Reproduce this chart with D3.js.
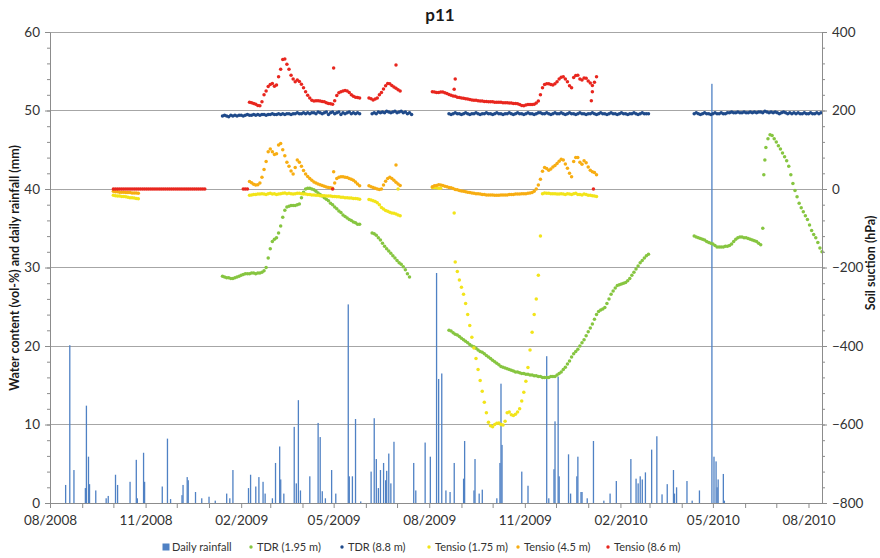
<!DOCTYPE html>
<html>
<head>
<meta charset="utf-8">
<script src="https://cdn.jsdelivr.net/npm/d3@7"></script>
<style>
  body { margin: 0; background: #fff; }
  text { font-family: Lato, "Open Sans", sans-serif; }
</style>
</head>
<body>
<svg id="chart" width="880" height="558"></svg>
<script>
// Logger readings are stored as segments: a start date and one value every STEP_DAYS days.
const STEP_DAYS = 2;

// Daily rainfall (mm)
const rainfall = [
  ["2008-08-16",2.3],["2008-08-20",20.1],["2008-08-24",4.2],["2008-09-04",1.9],["2008-09-05",12.4],
  ["2008-09-07",5.9],["2008-09-08",2.4],["2008-09-14",1.6],["2008-09-24",0.6],["2008-09-26",0.9],
  ["2008-10-03",3.6],["2008-10-05",2.3],["2008-10-17",2.7],["2008-10-23",5.5],["2008-10-24",0.6],
  ["2008-10-30",6.4],["2008-10-31",2.7],["2008-11-17",2.1],["2008-11-22",8.2],["2008-11-25",0.5],
  ["2008-12-06",1.0],["2008-12-07",2.3],["2008-12-11",3.3],["2008-12-12",2.9],["2008-12-19",1.4],
  ["2008-12-25",0.6],["2009-01-01",0.8],["2009-01-07",0.3],["2009-01-18",1.2],["2009-01-21",0.6],
  ["2009-01-24",4.2],["2009-02-08",1.9],["2009-02-10",3.6],["2009-02-15",2.1],["2009-02-18",3.3],
  ["2009-02-22",2.7],["2009-02-24",1.2],["2009-03-03",0.6],["2009-03-06",5.1],["2009-03-10",7.2],
  ["2009-03-11",3.0],["2009-03-14",1.2],["2009-03-24",9.7],["2009-03-26",2.5],["2009-03-28",13.1],
  ["2009-03-30",1.6],["2009-04-08",3.4],["2009-04-16",10.2],["2009-04-18",8.4],["2009-04-20",1.5],
  ["2009-04-23",0.6],["2009-04-29",4.2],["2009-05-03",1.2],["2009-05-15",25.3],["2009-05-16",3.4],
  ["2009-05-19",3.4],["2009-05-22",10.7],["2009-05-27",0.2],["2009-06-06",4.0],["2009-06-09",10.8],
  ["2009-06-11",5.6],["2009-06-13",1.9],["2009-06-15",4.2],["2009-06-18",5.1],["2009-06-20",2.9],
  ["2009-06-21",4.1],["2009-06-23",6.3],["2009-06-25",2.5],["2009-06-28",7.8],["2009-07-17",5.1],
  ["2009-07-19",1.6],["2009-07-28",7.7],["2009-08-02",5.9],["2009-08-08",29.3],["2009-08-10",15.8],
  ["2009-08-13",16.5],["2009-08-17",1.6],["2009-08-21",1.4],["2009-08-25",5.1],["2009-09-03",3.1],
  ["2009-09-04",7.9],["2009-09-13",1.6],["2009-09-14",5.6],["2009-09-18",1.2],["2009-09-21",1.7],
  ["2009-10-05",0.6],["2009-10-08",5.1],["2009-10-09",15.2],["2009-10-10",7.4],["2009-10-29",4.0],
  ["2009-11-04",2.2],["2009-11-22",18.7],["2009-11-24",0.6],["2009-11-29",4.3],["2009-11-30",10.4],
  ["2009-12-03",16.1],["2009-12-04",3.4],["2009-12-13",6.2],["2009-12-15",1.2],["2009-12-21",3.4],
  ["2009-12-22",5.9],["2009-12-25",1.4],["2009-12-26",1.4],["2009-12-31",0.6],["2010-01-06",7.9],
  ["2010-01-16",0.3],["2010-01-22",1.2],["2010-01-28",2.8],["2010-02-11",5.6],["2010-02-16",3.1],
  ["2010-02-18",2.5],["2010-02-20",3.4],["2010-02-22",3.0],["2010-02-25",3.9],["2010-03-03",6.8],
  ["2010-03-08",8.5],["2010-03-13",1.1],["2010-03-18",2.4],["2010-03-24",4.2],["2010-03-25",1.2],
  ["2010-03-27",2.0],["2010-04-06",2.8],["2010-04-11",0.3],["2010-04-18",1.6],["2010-04-30",53.4],
  ["2010-05-02",5.9],["2010-05-04",5.3],["2010-05-05",2.0],["2010-05-06",3.0],["2010-05-11",3.7],
  ["2010-05-12",0.3]
];

// TDR water content at 1.95 m (vol-%)
const tdr195 = [
  { start: "2009-01-14", values: [28.9,28.8,28.7,28.7,28.6,28.6,28.7,28.8,28.9,29.0,29.1,29.2,29.2,29.2,29.3,29.3,29.2,29.3,29.3,29.4,
    29.6,30.0,31.2,32.4,33.3,33.6,33.8,34.4,35.3,36.4,37.3,37.7,37.8,37.9,37.9,37.9,38.0,38.1,38.9,39.6,
    40.0,40.1,40.1,40.0,39.9,39.7,39.5,39.3,39.1,38.9,38.7,38.5,38.2,38.0,37.7,37.5,37.2,37.0,36.7,36.5,
    36.3,36.1,36.0,35.8,35.7,35.5,35.5] },
  { start: "2009-06-07", values: [34.4,34.3,34.1,33.8,33.5,33.1,32.7,32.4,32.1,31.8,31.5,31.2,30.9,30.6,30.4,30.1,29.7,29.2,28.8] },
  { start: "2009-08-20", values: [22.0,21.9,21.7,21.5,21.4,21.2,21.0,20.8,20.6,20.4,20.2,20.0,19.9,19.7,19.5,19.3,19.2,19.0,18.8,18.6,
    18.4,18.2,18.0,17.8,17.6,17.4,17.3,17.2,17.1,17.0,16.9,16.8,16.7,16.7,16.6,16.5,16.5,16.4,16.4,16.3,
    16.3,16.2,16.2,16.1,16.1,16.0,16.0,16.0,16.0,16.1,16.1,16.1,16.3,16.5,16.7,17.0,17.3,17.7,18.1,18.6,
    19.0,19.3,19.6,20.0,20.4,20.8,21.3,21.8,22.3,22.8,23.4,24.0,24.4,24.6,24.7,24.9,25.4,26.0,26.6,27.0,
    27.4,27.7,27.8,27.9,28.0,28.1,28.3,28.6,29.0,29.4,29.8,30.2,30.6,30.9,31.2,31.5,31.7] },
  { start: "2010-04-13", values: [34.0,33.9,33.8,33.7,33.6,33.5,33.3,33.2,33.1,33.0,32.8,32.6,32.6,32.6,32.6,32.7,32.7,32.8,33.0,33.3,
    33.6,33.8,33.9,33.9,33.8,33.8,33.7,33.6,33.5,33.4,33.3,33.1,32.9] },
  { start: "2010-06-21", values: [45.3,46.4,46.9,46.8,46.4,46.0,45.5,45.1,44.6,44.1,43.6,42.9,41.8,40.7,39.8,39.0,38.2,37.6,37.1,36.6,
    36.1,35.4,34.7,34.2,33.8,33.2,32.5,32.0] }
];
const tdr195Single = [["2010-06-18",35.0],["2010-06-19",41.8],["2010-06-20",43.7]];

// TDR water content at 8.8 m (vol-%)
const tdr88 = [
  { start: "2009-01-14", values: [49.3,49.4,49.3,49.2,49.4,49.3,49.4,49.3,49.4,49.4,49.3,49.4,49.5,49.4,49.4,49.5,49.4,49.5,49.4,49.5,
    49.5,49.4,49.5,49.5,49.6,49.5,49.5,49.6,49.5,49.6,49.5,49.6,49.6,49.5,49.6,49.6,49.7,49.6,49.6,49.7,
    49.6,49.7,49.6,49.7,49.7,49.6,49.8,49.7,49.6,49.7,49.8,49.5,49.7,49.8,49.6,49.7,49.8,49.5,49.7,49.6,
    49.7,49.8,49.6,49.7,49.6,49.7,49.6] },
  { start: "2009-06-07", values: [49.6,49.7,49.6,49.8,49.7,49.8,49.7,49.9,49.8,49.7,49.8,49.9,49.7,49.8,49.9,49.7,49.8,49.6,49.7,49.5] },
  { start: "2009-08-20", values: [49.6,49.5,49.6,49.7,49.6,49.6,49.5,49.6,49.7,49.6,49.5,49.6,49.6,49.7,49.6,49.5,49.6,49.6,49.7,49.6,
    49.6,49.5,49.6,49.7,49.6,49.6,49.5,49.6,49.6,49.7,49.6,49.5,49.6,49.7,49.6,49.6,49.5,49.6,49.7,49.6,
    49.6,49.5,49.6,49.7,49.7,49.6,49.6,49.7,49.6,49.5,49.6,49.7,49.6,49.6,49.7,49.6,49.5,49.6,49.7,49.6,
    49.6,49.5,49.6,49.7,49.6,49.6,49.5,49.6,49.6,49.7,49.6,49.5,49.6,49.7,49.6,49.6,49.5,49.6,49.7,49.6,
    49.6,49.5,49.6,49.7,49.6,49.6,49.5,49.6,49.6,49.7,49.6,49.5,49.6,49.7,49.6,49.6,49.6] },
  { start: "2010-04-13", values: [49.6,49.7,49.6,49.5,49.6,49.7,49.6,49.6,49.5,49.6,49.7,49.6,49.6,49.7,49.6,49.6,49.7,49.7,49.8,49.7,
    49.7,49.8,49.7,49.7,49.8,49.7,49.7,49.8,49.7,49.8,49.7,49.8,49.8,49.7,49.9,49.8,49.7,49.8,49.7,49.8,
    49.7,49.6,49.7,49.8,49.7,49.6,49.7,49.6,49.7,49.6,49.7,49.6,49.6,49.7,49.6,49.6,49.7,49.6,49.6,49.7,
    49.6,49.7] }
];
const tdr88Single = [];

// Tensiometer at 1.75 m (hPa)
const tensio175 = [
  { start: "2008-10-01", values: [-16,-17,-18,-18,-19,-19,-20,-21,-22,-22,-23,-24,-25] },
  { start: "2009-02-09", values: [-16,-15,-14,-14,-13,-13,-12,-13,-14,-12,-11,-13,-12,-14,-13,-12,-11,-10,-12,-11,
    -12,-13,-12,-11,-11,-12,-13,-13,-14,-14,-15,-15,-16,-16,-17,-17,-17,-18,-18,-18,
    -19,-19,-20,-20,-21,-21,-22,-22,-23,-23,-24,-24,-25,-26] },
  { start: "2009-06-04", values: [-27,-28,-30,-32,-35,-40,-47,-51,-55,-57,-59,-61,-62,-64,-66,-68] },
  { start: "2009-08-04", values: [4,3,3,2,2] },
  { start: "2009-08-26", values: [-186,-210,-232,-250,-268,-292,-320,-348,-378,-405,-432,-460,-488,-515,-543,-570,-594,-603,-606,-600,
    -597,-596,-600,-601,-592,-570,-568,-575,-577,-574,-568,-560,-540,-518,-490,-455,-410,-365,-320,-280,
    -220,-120,-12] },
  { start: "2009-11-20", values: [-10,-11,-11,-12,-12,-12,-13,-13,-12,-13,-14,-12,-13,-14,-12,-11,-14,-14,-15,-13,
    -14,-16,-16,-17,-18,-19] }
];
const tensio175Single = [["2009-07-02",0],["2009-08-25",-61]];

// Tensiometer at 4.5 m (hPa)
const tensio45 = [
  { start: "2008-10-01", values: [-6,-7,-7,-8,-8,-8,-9,-9,-9,-10,-10,-10,-11] },
  { start: "2009-02-09", values: [19,16,12,10,11,15,30,50,70,95,102,95,88,90,112,116,100,85,68,58,
    46,38,55,74,68,58,47,38,32,27,22,18,15,13,11,9,7,5,4,3,
    2,15,27,30,31,31,30,29,27,25,22,18,13,8] },
  { start: "2009-06-04", values: [8,6,4,2,0,-1,0,10,20,27,30,27,22,17,13,9] },
  { start: "2009-08-04", values: [6,8,9,11,10,9,7,6,4,3,1,-1,-2,-4,-5,-6,-7,-8,-9,-10,
    -11,-12,-12,-13,-14,-14,-15,-15,-15,-15,-16,-16,-16,-15,-15,-15,-15,-14,-14,-14,
    -13,-13,-13,-12,-12,-12,-11,-10,-9,-6,0,10,25,45,55,52,48,51,56,60,
    65,71,76,74,64,53,40,31,70,80,80,68,63,72,67,56,48,44,42,36] }
];
const tensio45Single = [["2009-05-01",44],["2009-06-30",61]];

// Tensiometer at 8.6 m (hPa)
const tensio86 = [
  { start: "2008-10-01", values: [0,0,0,0,0,0,0,0,0,0,0,0,0,0,0,0,0,0,0,0,0,0,0,0,0,0,0,0,0,0,0,0,0,0,0,0,0,0,0,0,0,0,0,0,0] },
  { start: "2009-02-03", values: [0,0,0] },
  { start: "2009-02-09", values: [221,220,218,216,213,212,222,240,250,261,266,269,262,265,286,305,330,331,318,305,
    290,280,273,278,274,267,258,248,239,232,226,224,225,225,224,223,222,220,218,217,
    216,225,238,245,248,250,251,250,246,240,236,234,233,232] },
  { start: "2009-06-04", values: [232,230,227,229,232,240,246,255,263,269,268,264,260,257,253,250] },
  { start: "2009-08-04", values: [248,247,246,246,247,247,245,243,241,239,237,236,234,233,232,231,230,229,228,227,
    226,226,225,224,224,223,223,222,222,222,221,221,221,221,220,220,220,219,219,218,
    218,217,215,213,212,214,215,215,215,216,219,224,240,258,266,268,268,266,265,268,
    273,280,285,286,280,273,263,258,284,289,290,280,278,283,282,275,270,264,272,286] }
];
const tensio86Single = [["2009-04-30",0],["2009-05-01",308],["2009-06-30",316],["2009-08-25",254],["2009-08-26",280],
  ["2010-01-04",225],["2010-01-05",248],["2010-01-06",0]];

// Axis ticks
const leftTicks = [0, 10, 20, 30, 40, 50, 60];
const leftMinor = d3.range(0, 61, 2);
const rightTicks = [-800, -600, -400, -200, 0, 200, 400];
const rightMinor = d3.range(-800, 401, 40);
const xLabelMonths = ["2008-08-01","2008-11-01","2009-02-01","2009-05-01","2009-08-01","2009-11-01","2010-02-01","2010-05-01","2010-08-01"];

const parse = d3.utcParse("%Y-%m-%d");
const svg = d3.select("#chart");

const plotL = 50, plotR = 822, plotT = 32, plotB = 503;
const x = d3.scaleUtc().domain([parse("2008-08-01"), parse("2010-08-14")]).range([plotL, plotR]);
const yL = d3.scaleLinear().domain([0, 60]).range([plotB, plotT]);
const yR = d3.scaleLinear().domain([-800, 400]).range([plotB, plotT]);

function expand(segments, singles) {
  const pts = [];
  segments.forEach(s => {
    const t0 = parse(s.start);
    s.values.forEach((v, i) => pts.push({ date: d3.utcDay.offset(t0, i * STEP_DAYS), value: v }));
  });
  singles.forEach(([d, v]) => pts.push({ date: parse(d), value: v }));
  return pts;
}

const axisColor = "#8c8c8c";
const labelColor = "#333333";

// Horizontal gridlines at the major left ticks
svg.append("g").selectAll("line").data(leftTicks.filter(v => v > 0)).join("line")
  .attr("x1", plotL).attr("x2", plotR)
  .attr("y1", d => yL(d)).attr("y2", d => yL(d))
  .attr("stroke", "#a6a6a6").attr("stroke-width", 1).attr("shape-rendering", "crispEdges");

// Daily rainfall bars
svg.append("g").selectAll("rect").data(rainfall).join("rect")
  .attr("x", d => x(parse(d[0])) - 0.6)
  .attr("width", 1.3)
  .attr("y", d => yL(d[1]))
  .attr("height", d => yL(0) - yL(d[1]))
  .attr("fill", "#4f81c4");

// Dot series
const series = [
  { name: "TDR (1.95 m)", color: "#86c540", scale: yL, pts: expand(tdr195, tdr195Single) },
  { name: "TDR (8.8 m)", color: "#1f4a8a", scale: yL, pts: expand(tdr88, tdr88Single) },
  { name: "Tensio (1.75 m)", color: "#f2e41a", scale: yR, pts: expand(tensio175, tensio175Single) },
  { name: "Tensio (4.5 m)", color: "#f7ad12", scale: yR, pts: expand(tensio45, tensio45Single) },
  { name: "Tensio (8.6 m)", color: "#e8261e", scale: yR, pts: expand(tensio86, tensio86Single) }
];
series.forEach(s => {
  svg.append("g").selectAll("circle").data(s.pts).join("circle")
    .attr("cx", d => x(d.date))
    .attr("cy", d => s.scale(d.value))
    .attr("r", 1.75)
    .attr("fill", s.color);
});

// Axes
function styleAxis(g) {
  g.select(".domain").attr("stroke", axisColor);
  g.selectAll(".tick line").attr("stroke", axisColor);
  g.selectAll(".tick text").attr("fill", labelColor).style("font-size", "13.5px")
    .style("font-family", "Lato, 'Open Sans', sans-serif");
}

svg.append("g").attr("transform", `translate(${plotL},0)`)
  .call(d3.axisLeft(yL).tickValues(leftMinor).tickSize(3).tickFormat(""))
  .call(g => { g.select(".domain").remove(); g.selectAll("line").attr("stroke", axisColor); });
svg.append("g").attr("transform", `translate(${plotL},0)`)
  .call(d3.axisLeft(yL).tickValues(leftTicks).tickSize(5).tickPadding(5).tickSizeOuter(0))
  .call(styleAxis);

svg.append("g").attr("transform", `translate(${plotR},0)`)
  .call(d3.axisRight(yR).tickValues(rightMinor).tickSize(3).tickFormat(""))
  .call(g => { g.select(".domain").remove(); g.selectAll("line").attr("stroke", axisColor); });
svg.append("g").attr("transform", `translate(${plotR},0)`)
  .call(d3.axisRight(yR).tickValues(rightTicks).tickSize(5).tickPadding(5).tickSizeOuter(0))
  .call(styleAxis);

const monthTicks = d3.utcMonth.range(parse("2008-08-01"), parse("2010-08-14"));
svg.append("g").attr("transform", `translate(0,${plotB})`)
  .call(d3.axisBottom(x).tickValues(monthTicks).tickSize(5).tickFormat("").tickSizeOuter(0))
  .call(styleAxis);
svg.append("g").attr("transform", `translate(0,${plotB})`)
  .call(d3.axisBottom(x).tickValues(xLabelMonths.map(parse)).tickSize(0).tickPadding(12)
    .tickFormat(d3.utcFormat("%m/%Y")))
  .call(g => g.select(".domain").remove())
  .call(styleAxis);

// Title and axis titles
svg.append("text").attr("x", 440).attr("y", 21).attr("text-anchor", "middle")
  .style("font-size", "17px").style("font-weight", "bold").attr("fill", "#1a1a1a").text("p11");
svg.append("text").attr("transform", "translate(19,268) rotate(-90)").attr("text-anchor", "middle")
  .style("font-size", "12.5px").style("font-weight", "bold").attr("fill", "#1a1a1a")
  .text("Water content (vol-%) and daily rainfall (mm)");
svg.append("text").attr("transform", "translate(875,263) rotate(-90)").attr("text-anchor", "middle")
  .style("font-size", "12.5px").style("font-weight", "bold").attr("fill", "#1a1a1a")
  .text("Soil suction (hPa)");

// Legend
const legendY = 547;
const legendItems = [
  { name: "Daily rainfall", color: "#4f81c4", bar: true, at: 166 },
  ...series.map((s, i) => ({ name: s.name, color: s.color, bar: false, at: [251, 342, 429, 518, 608][i] }))
];
const lg = svg.append("g");
legendItems.forEach(it => {
  if (it.bar) {
    lg.append("rect").attr("x", it.at - 3.5).attr("y", legendY - 3.5).attr("width", 7).attr("height", 7).attr("fill", it.color);
  } else {
    lg.append("circle").attr("cx", it.at).attr("cy", legendY).attr("r", 1.7).attr("fill", it.color);
  }
  lg.append("text").attr("x", it.at + 6).attr("y", legendY).attr("dy", "0.35em")
    .style("font-size", "11px").attr("fill", labelColor).text(it.name);
});
</script>
</body>
</html>
